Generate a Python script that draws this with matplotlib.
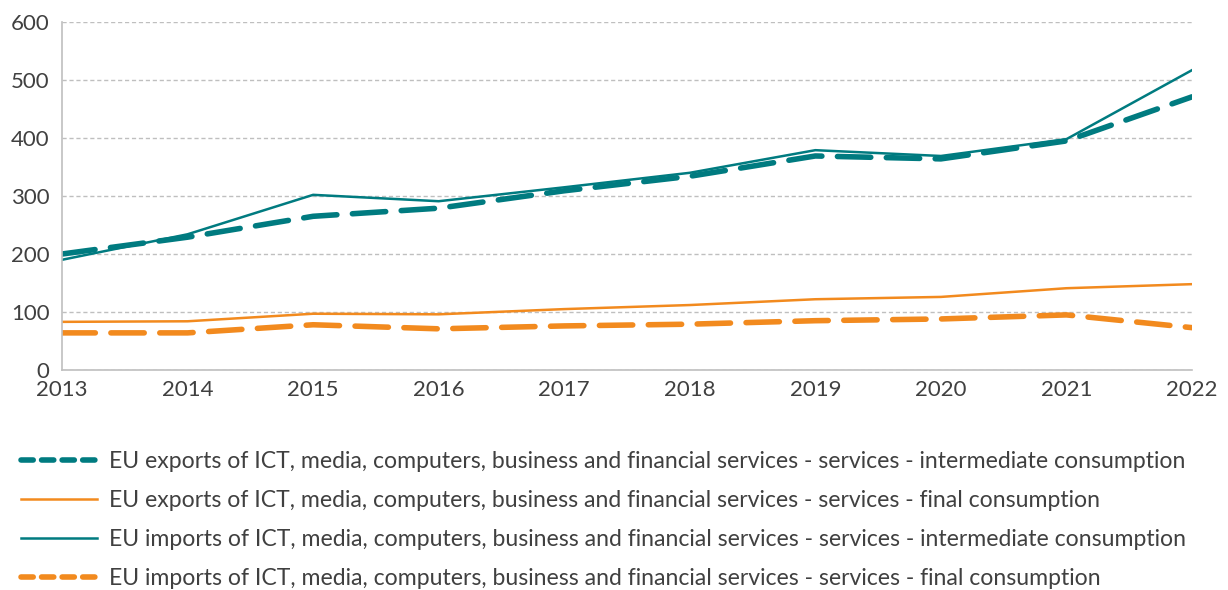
import numpy as np
import matplotlib.pyplot as plt
from matplotlib.lines import Line2D

plt.rcParams['font.family'] = ['Lato', 'DejaVu Sans']

years = [2013, 2014, 2015, 2016, 2017, 2018, 2019, 2020, 2021, 2022]

exp_interm = [200, 229, 265, 279, 309, 334, 369, 364, 395, 471]
exp_final = [83, 84, 97, 96, 105, 112, 122, 126, 141, 148]
imp_interm = [190, 234, 302, 291, 315, 340, 379, 369, 398, 517]
imp_final = [64, 64, 78, 71, 76, 79, 85, 88, 95, 73]

labels = [
    'EU exports of ICT, media, computers, business and financial services - services - intermediate consumption',
    'EU exports of ICT, media, computers, business and financial services - services - final consumption',
    'EU imports of ICT, media, computers, business and financial services - services - intermediate consumption',
    'EU imports of ICT, media, computers, business and financial services - services - final consumption',
]

teal = '#007b80'
orange = '#f28a1e'
txt = '#404040'

fig = plt.figure(figsize=(12.28, 5.90), dpi=100)
ax = fig.add_axes([62/1228, 1 - 370/590, 1130/1228, 348/590])

dash = (0, (6, 2.8))
l1, = ax.plot(years, exp_interm, color=teal, lw=4, linestyle=dash, dash_capstyle='round')
l2, = ax.plot(years, exp_final, color=orange, lw=1.8)
l3, = ax.plot(years, imp_interm, color=teal, lw=1.8)
l4, = ax.plot(years, imp_final, color=orange, lw=4, linestyle=dash, dash_capstyle='round')

ax.set_xlim(2013, 2022)
ax.set_ylim(0, 600)
ax.set_yticks(range(0, 601, 100))
ax.set_xticks(years)
ax.grid(axis='y', color='#bfbfbf', linestyle=(0, (3, 2)), lw=1)
ax.set_axisbelow(True)
for s in ['top', 'right']:
    ax.spines[s].set_visible(False)
for s in ['left', 'bottom']:
    ax.spines[s].set_color('#bfbfbf')
    ax.spines[s].set_linewidth(1.2)
ax.tick_params(length=0, labelsize=16, colors=txt, pad=7)
ax.tick_params(axis='y', pad=9)

handles = [
    Line2D([], [], color=teal, lw=4, linestyle=(0, (2.2, 1.5)), dash_capstyle='round'),
    Line2D([], [], color=orange, lw=1.8),
    Line2D([], [], color=teal, lw=1.8),
    Line2D([], [], color=orange, lw=4, linestyle=(0, (2.2, 1.5)), dash_capstyle='round'),
]
fig.legend(handles, labels, loc='upper left', bbox_to_anchor=(12/1228, 1 - 442/590),
           frameon=False, fontsize=16.6, labelcolor=txt, handlelength=3.3,
           handletextpad=0.5, labelspacing=0.78, borderaxespad=0)

fig.savefig('out.png', dpi=100)
